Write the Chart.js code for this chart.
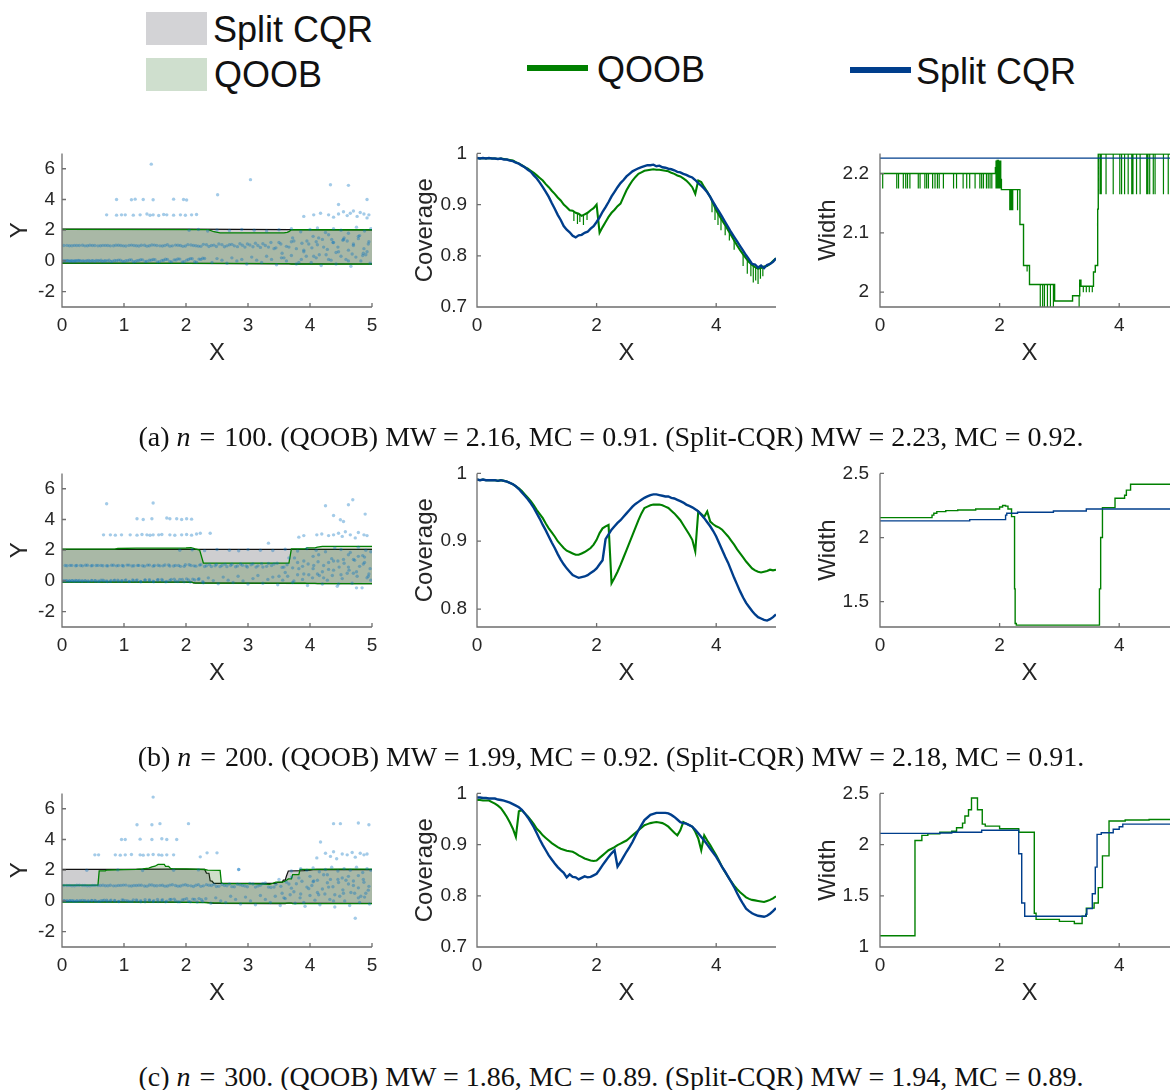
<!DOCTYPE html>
<html>
<head>
<meta charset="utf-8">
<script src="https://cdn.jsdelivr.net/npm/chart.js@4.4.1/dist/chart.umd.min.js"></script>
<style>
  html, body { margin: 0; padding: 0; background: #fff; overflow: hidden; }
  #page { position: relative; width: 1170px; height: 1090px; overflow: hidden; background: #fff;
          font-family: "Liberation Sans", Arial, Helvetica, sans-serif; }
  .lg-text { position: absolute; font-size: 36px; line-height: 36px; color: #111; white-space: nowrap; }
  .swatch { position: absolute; }
  .caption { position: absolute; left: 0; width: 1222px; text-align: center; white-space: nowrap;
             font-family: "Liberation Serif", "Times New Roman", serif; font-size: 28px; line-height: 30px; color: #111; }
  .caption .eq { padding: 0 0.32em; }
</style>
</head>
<body>
<div id="page">
  <div class="swatch" style="left:146px;top:12px;width:61px;height:33px;background:rgb(211,211,214)"></div>
  <div class="lg-text" style="left:213px;top:12px">Split CQR</div>
  <div class="swatch" style="left:146px;top:58px;width:61px;height:33px;background:rgb(207,223,206)"></div>
  <div class="lg-text" style="left:214px;top:57px">QOOB</div>
  <div class="swatch" style="left:527px;top:65px;width:61px;height:6px;background:rgb(0,128,0)"></div>
  <div class="lg-text" style="left:597px;top:52px">QOOB</div>
  <div class="swatch" style="left:850px;top:67px;width:61px;height:6px;background:rgb(0,62,140)"></div>
  <div class="lg-text" style="left:916px;top:54px">Split CQR</div>
</div>
<script>
// ---------- caption values ----------
const captionTags = ['(a)', '(b)', '(c)'];
const captionN = [100, 200, 300];
const qoobMW = [2.16, 1.99, 1.86];
const qoobMC = [0.91, 0.92, 0.89];
const splitMW = [2.23, 2.18, 1.94];
const splitMC = [0.92, 0.91, 0.89];

// ---------- tick values ----------
const xTicksScatter = [0, 1, 2, 3, 4, 5];
const xTicksCurves = [0, 2, 4];
const yTicksScatter = [-2, 0, 2, 4, 6];
const yTicksCovA = [0.7, 0.8, 0.9, 1];
const yTicksCovB = [0.8, 0.9, 1];
const yTicksCovC = [0.7, 0.8, 0.9, 1];
const yTicksWidA = [2, 2.1, 2.2];
const yTicksWidB = [1.5, 2, 2.5];
const yTicksWidC = [1, 1.5, 2, 2.5];

// ---------- observations (left column) ----------
const pointsAX = [
  0.02,0.06,0.1,0.14,0.18,0.22,0.26,0.3,0.35,0.4,0.45,0.5,0.55,0.6,0.65,0.7,0.76,0.82,0.88,0.94,1.0,1.06,1.12,1.18,1.24,1.3,1.37,1.44,1.5,1.57,1.64,1.7,1.77,1.84,1.9,1.97,2.04,2.1,2.17,2.24,2.3,
  2.42,2.5,2.58,2.66,2.74,2.82,2.9,2.98,3.06,3.14,3.22,3.3,3.38,3.46,3.54,3.62,3.7,3.78,3.86,3.94,4.02,4.1,4.18,4.26,4.34,4.42,4.5,4.58,4.66,4.74,4.82,4.9,4.97,
  0.03,0.12,0.2,0.28,0.37,0.45,0.53,0.62,0.7,0.78,0.87,0.95,1.03,1.12,1.2,1.28,1.37,1.45,1.53,1.62,1.7,1.78,1.87,1.95,2.03,2.12,2.2,2.28,2.37,2.45,2.53,2.62,2.7,2.78,2.87,2.95,3.03,3.12,3.2,3.28,3.37,3.45,3.53,3.62,3.7,3.78,3.87,3.95,4.03,4.12,4.2,4.28,4.37,4.45,4.53,4.62,4.7,4.78,4.87,4.95,
  2.05,2.2,2.35,2.5,2.7,2.9,3.1,3.3,3.5,3.7,3.85,4.0,4.12,4.25,4.38,4.5,4.62,4.75,4.88,4.98,
  3.55,3.72,3.9,4.05,4.15,4.3,4.42,4.55,4.68,4.8,4.92,4.6,4.35,4.85,4.1,
  0.72,0.88,0.96,1.02,1.15,1.26,1.37,1.42,1.47,1.56,1.64,1.69,1.8,1.91,1.99,2.09,2.17,
  3.9,4.06,4.17,4.3,4.38,4.46,4.54,4.6,4.65,4.7,4.76,4.81,4.87,4.92,4.95,
  0.88,1.12,1.18,1.31,1.47,1.8,1.96,2.01,
  1.44,3.04,4.33,4.62,2.51,4.46,4.92
];
const pointsAY = [
  0.01,-0.01,0.02,0,-0.02,0.01,0.03,-0.01,0,0.02,-0.02,0.01,0.03,0,-0.03,0.02,0.04,-0.02,0.01,0.05,-0.03,0.02,0.06,-0.04,0.03,0.07,-0.02,0.05,0.08,-0.05,0.04,0.1,-0.06,0.06,0.12,-0.05,0.09,0.14,-0.08,0.1,0.16,
  -0.1,0.15,0.05,-0.15,0.2,0,0.1,-0.2,0.25,0.05,-0.1,0.3,0.1,-0.25,0.2,0,0.35,-0.2,0.1,0.3,-0.1,0.2,-0.3,0.4,0.05,-0.2,0.3,0.1,-0.35,0.25,0,0.4,-0.15,
  1.0,0.99,1.01,1.0,0.98,1.02,1.0,0.99,1.01,0.98,1.02,1.0,0.97,1.03,0.99,1.02,0.96,1.04,1.0,0.97,1.05,0.98,1.02,0.95,1.06,1.0,0.96,1.08,0.94,1.03,1.1,0.92,1.05,0.98,1.12,0.9,1.04,1.15,0.88,1.0,1.2,0.85,1.1,0.95,1.25,0.8,1.15,1.3,0.85,1.05,1.4,0.75,1.2,0.9,1.35,0.7,1.1,1.45,0.8,1.25,
  2.0,2.05,1.95,2.02,1.98,2.05,2.0,1.95,2.03,2.1,1.9,2.05,2.15,1.85,2.1,2.0,1.8,2.2,1.95,2.1,
  0.5,1.5,0.6,1.6,0.4,1.7,0.55,1.5,0.45,1.65,0.6,1.3,1.4,0.35,1.25,
  3.0,2.98,3.0,3.0,2.98,3.0,3.05,2.97,3.0,2.96,3.02,3.0,2.98,3.0,2.97,3.0,3.02,
  2.9,3.0,3.1,3.0,2.85,3.05,3.2,2.95,3.1,3.25,2.9,3.15,3.05,2.8,3.0,
  4.0,3.98,4.02,4.0,3.98,4.02,4.0,3.97,
  6.3,5.29,4.96,4.92,4.31,3.67,4.0
];
const pointsBX = [
  0.02,0.07,0.12,0.17,0.22,0.27,0.32,0.37,0.42,0.48,0.54,0.6,0.66,0.72,0.78,0.84,0.9,0.96,1.02,1.08,1.14,1.2,1.27,1.34,1.41,1.48,1.55,1.62,1.69,1.76,1.83,1.9,1.97,2.04,2.11,
  2.2,2.28,2.36,2.44,2.52,2.6,2.68,2.76,2.84,2.92,3.0,3.08,3.16,3.24,3.32,3.4,3.48,3.56,3.64,3.72,3.8,3.88,3.96,4.04,4.12,4.2,4.28,4.36,4.44,4.52,4.6,4.68,4.76,4.84,4.92,4.98,
  0.05,0.13,0.22,0.3,0.38,0.47,0.55,0.63,0.72,0.8,0.88,0.97,1.05,1.13,1.22,1.3,1.38,1.47,1.55,1.63,1.72,1.8,1.88,1.97,2.05,2.13,2.22,2.3,2.38,2.47,2.55,2.63,2.72,2.8,2.88,2.97,3.05,3.13,3.22,3.3,3.38,3.47,3.55,3.63,3.72,3.8,3.88,3.97,4.05,4.13,4.22,4.3,4.38,4.47,4.55,4.63,4.72,4.8,4.88,4.97,
  1.9,2.1,2.3,2.5,2.7,2.85,3.0,3.2,3.4,3.6,3.8,3.95,4.1,4.25,4.4,4.5,4.65,4.78,4.9,4.98,
  3.6,3.75,3.9,4.05,4.2,4.35,4.5,4.62,4.75,4.88,4.95,4.45,4.7,4.15,4.85,
  0.67,0.78,0.86,0.96,1.1,1.21,1.29,1.37,1.42,1.47,1.56,1.61,1.74,1.82,1.93,2.01,2.09,2.17,2.23,
  3.82,3.9,4.11,4.19,4.3,4.38,4.46,4.52,4.57,4.65,4.73,4.78,4.87,4.92,
  1.21,1.31,1.45,1.69,1.74,1.85,1.93,2.01,2.09,
  0.72,1.47,4.69,4.25,4.62,4.38,4.49,4.54,4.89,3.33,2.39,4.75
];
const pointsBY = [
  0,0.02,-0.01,0.01,0.03,-0.02,0,0.02,-0.01,0.03,0.01,-0.02,0.04,0,-0.03,0.02,0.05,-0.01,0.03,-0.04,0.06,0.01,-0.03,0.07,0,-0.05,0.08,0.02,-0.04,0.09,-0.02,0.1,-0.06,0.06,0.12,
  0.1,-0.12,0.2,0.02,-0.18,0.25,0.05,-0.1,0.3,0,-0.2,0.15,0.35,-0.15,0.1,0.25,-0.25,0.05,0.3,-0.1,0.4,0.1,-0.3,0.2,0.45,-0.2,0.05,0.35,-0.35,0.15,0.5,-0.15,0.3,-0.45,0.2,0.05,
  1.0,1.01,0.99,1.0,1.02,0.98,1.0,1.01,0.99,1.02,0.98,1.0,1.03,0.97,1.01,0.99,1.03,0.96,1.02,0.98,1.04,0.97,1.01,0.95,1.05,0.98,1.03,0.94,1.06,0.99,0.93,1.08,1.0,0.92,1.1,0.97,1.05,0.9,1.12,0.95,1.0,1.15,0.88,1.05,0.85,1.2,0.95,1.1,0.8,1.25,1.0,0.75,1.3,0.9,1.15,0.7,1.35,0.95,1.2,0.8,
  2.0,2.03,1.97,2.05,2.0,1.96,2.04,2.0,1.98,2.06,1.95,2.1,2.0,1.9,2.15,2.05,1.85,2.2,2.0,1.9,
  0.55,1.5,0.45,1.6,0.6,1.45,0.4,1.7,0.6,1.55,0.45,1.3,1.4,0.35,1.65,
  3.0,3.0,2.98,3.0,3.0,2.98,3.02,3.0,2.97,3.0,3.0,3.02,3.0,2.97,3.0,3.02,2.98,3.05,3.1,
  2.85,2.95,3.0,3.05,2.95,3.0,3.1,2.9,3.2,3.0,2.8,3.15,3.0,2.95,
  4.05,4.0,4.05,4.1,4.05,4.05,4.0,4.05,4.02,
  5.02,5.07,5.28,4.89,4.96,4.26,3.98,3.87,4.35,2.46,3.1,-0.45
];
const pointsCX = [
  0.03,0.08,0.13,0.18,0.24,0.3,0.36,0.42,0.48,0.54,0.6,0.66,0.72,0.78,0.85,0.92,0.99,1.06,1.13,1.2,1.27,1.34,1.41,1.48,1.55,1.62,1.69,1.76,1.83,1.9,1.97,2.04,2.11,2.18,2.25,2.32,
  2.4,2.48,2.56,2.64,2.72,2.8,2.88,2.96,3.04,3.12,3.2,3.28,3.36,3.44,3.52,3.6,3.68,3.76,3.84,3.92,4.0,4.08,4.16,4.24,4.32,4.4,4.48,4.56,4.64,4.72,4.8,4.88,4.96,
  0.03,0.12,0.2,0.28,0.37,0.45,0.53,0.62,0.7,0.78,0.87,0.95,1.03,1.12,1.2,1.28,1.37,1.45,1.53,1.62,1.7,1.78,1.87,1.95,2.03,2.12,2.2,2.28,2.37,2.45,2.53,2.62,2.7,2.78,2.87,2.95,3.03,3.12,3.2,3.28,3.37,3.45,3.53,3.62,3.7,3.78,3.87,3.95,4.03,4.12,4.2,4.28,4.37,4.45,4.53,4.62,4.7,4.78,4.87,4.95,
  0.4,0.9,1.3,1.8,2.2,2.85,3.7,3.85,3.95,4.05,4.15,4.25,4.35,4.45,4.55,4.65,4.75,4.85,4.92,4.98,
  3.55,3.7,3.85,4.0,4.12,4.28,4.4,4.52,4.66,4.78,4.9,4.58,4.33,4.82,4.05,
  0.53,0.59,0.86,0.94,1.02,1.12,1.26,1.31,1.39,1.47,1.56,1.61,1.69,1.8,2.23,2.34,2.5,
  4.11,4.25,4.33,4.38,4.43,4.52,4.6,4.68,4.73,4.81,4.87,4.92,
  0.96,1.02,1.26,1.45,1.61,1.69,1.85,
  1.47,1.21,1.45,1.58,2.04,4.38,4.49,4.78,4.95,4.17,4.73,2.85
];
const pointsCY = [
  0.01,-0.01,0.02,0,-0.02,0.02,0.01,-0.01,0.03,0,-0.03,0.02,0.04,-0.01,0.03,-0.04,0.05,0,-0.03,0.06,0.02,-0.05,0.07,0.01,-0.04,0.08,-0.02,0.09,0,-0.06,0.1,-0.03,0.12,-0.07,0.08,0.14,
  -0.15,0.2,0,-0.1,0.3,0.1,-0.2,0.25,0,-0.25,0.35,0.1,-0.1,0.3,-0.3,0.15,0.4,-0.15,0.2,-0.35,0.35,0.05,-0.25,0.45,0.1,-0.4,0.3,0,-0.3,0.5,-0.1,0.25,-0.2,
  1.0,1.01,0.99,1.02,1.0,0.98,1.01,1.0,0.99,1.02,0.98,1.01,1.03,0.97,1.0,1.02,0.96,1.04,0.99,1.02,0.97,1.05,0.96,1.03,1.0,0.94,1.06,0.98,1.02,1.08,0.95,1.0,1.1,0.92,1.05,0.97,1.13,0.9,1.02,1.17,0.87,1.08,0.95,1.22,0.83,1.12,1.28,0.9,1.0,1.35,0.78,1.18,0.92,1.4,0.72,1.1,1.3,0.85,1.22,0.95,
  2.0,2.02,1.98,2.0,2.02,2.05,1.95,2.1,2.0,2.15,1.9,2.05,2.2,1.95,2.1,2.0,2.2,1.85,2.1,2.0,
  0.5,1.55,0.45,1.6,0.55,1.7,0.4,1.5,0.55,1.65,0.5,1.35,1.4,0.3,1.25,
  3.0,3.0,3.0,2.98,3.0,3.02,3.0,2.98,3.0,3.02,3.0,2.98,3.0,3.0,2.87,3.13,3.13,
  2.8,3.1,2.9,3.2,2.75,3.05,3.0,3.15,2.85,3.1,3.0,3.05,
  4.0,4.0,4.02,4.0,4.05,4.0,4.0,
  6.76,4.96,4.96,5.03,5.03,5.03,5.03,5.07,4.96,3.84,-1.13,2.05
];
// more observations along the two dense rows and in the noisy right-hand part
const denseZeroX = [0.04,0.08,0.12,0.16,0.2,0.24,0.28,0.33,0.38,0.43,0.48,0.53,0.58,0.63,0.68,0.73,0.79,0.85,0.91,0.97,1.03,1.09,1.15,1.21,1.27,1.34,1.41,1.47,1.54,1.61,1.67,1.74,1.81,1.87,1.94,2.01,2.07,2.14,2.21,2.27];
const denseOneX = [0.08,0.16,0.24,0.33,0.41,0.49,0.58,0.66,0.74,0.83,0.91,0.99,1.08,1.16,1.24,1.33,1.41,1.49,1.58,1.66,1.74,1.83,1.91,1.99,2.08,2.16,2.24,2.33,2.41,2.49,2.58,2.66,2.74,2.83,2.91,2.99,3.08,3.16,3.24,3.33];
const spreadRightX = [3.42,3.5,3.58,3.66,3.74,3.82,3.9,3.98,4.06,4.14,4.22,4.3,4.38,4.46,4.54,4.62,4.7,4.78,4.86,4.94];
const denseAY = [
  0,0.02,-0.02,0.01,0,-0.01,0.02,0,-0.02,0.03,0.01,-0.03,0.02,0.04,-0.01,0,-0.04,0.03,0.05,-0.02,0.01,0.06,-0.05,0.02,0.08,-0.03,0.04,0.09,-0.06,0.03,0.11,-0.04,0.07,0.13,-0.07,0.05,0.15,-0.05,0.12,0.18,
  1.01,0.99,1.0,1.02,0.99,1.0,0.98,1.01,1.0,0.99,1.02,0.98,1.01,1.0,0.97,1.02,0.99,1.03,0.98,1.0,0.96,1.03,1.0,0.97,1.04,0.99,0.95,1.05,1.0,0.94,1.06,0.98,1.08,0.93,1.02,1.1,0.92,1.0,1.12,0.9,
  0.8,1.2,0.2,0.9,1.3,-0.1,0.7,1.1,0.3,1.5,0.9,0.1,1.2,0.6,1.4,0,1.0,1.6,0.5,1.1
];
const denseBY = [
  0.01,-0.01,0,0.02,-0.02,0.01,0.03,-0.01,0,-0.03,0.02,0.01,-0.02,0.04,0,-0.04,0.03,0.05,-0.02,0.01,0.06,-0.03,0.02,0.07,-0.05,0.04,0.08,-0.02,0.06,0.1,-0.06,0.03,0.11,-0.04,0.09,0.13,-0.07,0.06,0.14,-0.05,
  0.99,1.01,1.0,0.98,1.02,1.0,1.01,0.99,0.98,1.02,1.0,0.97,1.03,0.99,1.01,0.96,1.03,1.0,0.98,1.04,0.97,1.01,0.95,1.05,1.0,0.96,1.06,0.99,0.94,1.07,1.0,0.93,1.09,0.97,1.02,0.91,1.11,0.98,0.9,1.13,
  1.1,0.3,0.9,1.5,0,0.8,1.3,0.4,1.0,1.7,0.2,1.2,0.7,-0.2,1.4,0.9,0.5,1.6,1.1,0.3
];
const denseCY = [
  0.02,0,-0.01,0.01,-0.02,0.02,0,0.03,-0.01,-0.02,0.02,0.03,-0.03,0.01,0.04,-0.02,0.05,0,-0.04,0.06,0.02,-0.03,0.07,0,-0.05,0.08,0.02,-0.04,0.1,0.01,-0.06,0.09,0.12,-0.05,0.06,0.14,-0.06,0.1,0.15,-0.04,
  1.0,0.99,1.02,1.0,0.98,1.01,1.0,1.02,0.99,0.98,1.01,1.03,0.98,1.0,1.02,0.97,1.04,0.99,1.01,0.96,1.03,1.0,0.97,1.05,0.98,1.02,0.95,1.06,1.0,0.94,1.07,0.99,0.93,1.09,1.0,0.92,1.1,0.97,1.13,0.9,
  0.9,1.4,0.2,1.1,0.6,1.5,-0.1,0.8,1.3,0.4,1.7,0.9,0,1.2,0.5,1.6,1.0,0.2,1.4,0.7
];

// ---------- prediction bands (left column) ----------
const splitBandAX = [0, 2.0, 3.7, 5];
const splitBandALow = [-0.15, -0.16, -0.19, -0.2];
const splitBandAHigh = [2.075, 2.065, 2.035, 2.025];
const qoobBandAX = [0, 2.36, 2.45, 2.55, 3.58, 3.63, 3.66, 3.7, 5];
const qoobBandALow = [-0.15, -0.16, -0.16, -0.16, -0.17, -0.17, -0.18, -0.2, -0.2];
const qoobBandAHigh = [2.05, 2.04, 1.9, 1.82, 1.82, 1.86, 1.9, 2.03, 2.03];

const splitBandBX = [0, 2.1, 2.12, 2.9, 3.45, 5];
const splitBandBLow = [-0.07, -0.08, -0.13, -0.14, -0.16, -0.17];
const splitBandBHigh = [2.06, 2.06, 2.05, 2.06, 2.06, 2.05];
const qoobBandBX = [0, 0.85, 0.9, 1.2, 2.0, 2.08, 2.15, 2.22, 2.26, 2.28, 3.66, 3.7, 3.92, 3.95, 4.08, 4.12, 4.2, 5];
const qoobBandBLow = [-0.08, -0.08, -0.08, -0.08, -0.08, -0.085, -0.14, -0.15, -0.15, -0.15, -0.15, -0.153, -0.153, -0.156, -0.156, -0.17, -0.17, -0.17];
const qoobBandBHigh = [2.075, 2.075, 2.11, 2.135, 2.143, 2.16, 2.08, 2.01, 1.45, 1.165, 1.165, 2.08, 2.08, 2.15, 2.15, 2.2, 2.245, 2.245];

const splitBandCX = [0, 1.0, 1.7, 2.3, 2.33, 2.37, 2.39, 2.42, 2.45, 3.45, 3.48, 3.55, 3.57, 3.6, 3.62, 3.65, 3.9, 4.0, 4.05, 4.1, 5];
const splitBandCLow = [-0.05, -0.06, -0.08, -0.1, -0.1, -0.11, -0.12, -0.14, -0.16, -0.17, -0.17, -0.17, -0.17, -0.17, -0.16, -0.15, -0.15, -0.15, -0.15, -0.15, -0.16];
const splitBandCHigh = [2.06, 2.055, 2.065, 2.05, 1.81, 1.8, 1.31, 1.29, 1.14, 1.14, 1.21, 1.21, 1.35, 1.35, 1.62, 1.95, 1.97, 2.01, 2.04, 2.05, 2.04];
const qoobBandCX = [0, 0.58, 0.6, 0.7, 0.72, 1.0, 1.2, 1.3, 1.4, 1.45, 1.5, 1.55, 1.65, 1.67, 1.72, 1.75, 1.78, 2.0, 2.3, 2.35, 2.55, 2.57, 2.6, 3.0, 3.25, 3.35, 3.4, 3.45, 3.55, 3.6, 3.65, 3.7, 3.72, 3.82, 3.84, 4.0, 4.1, 4.5, 5];
const qoobBandCLow = [-0.08, -0.08, -0.08, -0.08, -0.08, -0.08, -0.08, -0.08, -0.08, -0.08, -0.08, -0.08, -0.08, -0.08, -0.08, -0.08, -0.08, -0.09, -0.11, -0.12, -0.13, -0.15, -0.15, -0.15, -0.15, -0.15, -0.15, -0.15, -0.15, -0.15, -0.15, -0.15, -0.18, -0.18, -0.18, -0.18, -0.18, -0.18, -0.18];
const qoobBandCHigh = [1.03, 1.03, 1.96, 1.96, 2.01, 2.04, 2.05, 2.085, 2.13, 2.22, 2.26, 2.375, 2.375, 2.255, 2.255, 2.12, 2.1, 2.08, 2.045, 2.0, 1.99, 1.18, 1.12, 1.12, 1.1, 1.08, 1.15, 1.23, 1.23, 1.28, 1.43, 1.43, 1.71, 1.71, 2.05, 2.05, 2.06, 2.065, 2.07];

// ---------- conditional coverage (middle column) ----------
const coverageX = [
  0,0.05,0.1,0.15,0.2,0.25,0.3,0.35,0.4,0.45,
  0.5,0.55,0.6,0.65,0.7,0.75,0.8,0.85,0.9,0.95,
  1,1.05,1.1,1.15,1.2,1.25,1.3,1.35,1.4,1.45,
  1.5,1.55,1.6,1.65,1.7,1.75,1.8,1.85,1.9,1.95,
  2,2.05,2.1,2.15,2.2,2.25,2.3,2.35,2.4,2.45,
  2.5,2.55,2.6,2.65,2.7,2.75,2.8,2.85,2.9,2.95,
  3,3.05,3.1,3.15,3.2,3.25,3.3,3.35,3.4,3.45,
  3.5,3.55,3.6,3.65,3.7,3.75,3.8,3.85,3.9,3.95,
  4,4.05,4.1,4.15,4.2,4.25,4.3,4.35,4.4,4.45,
  4.5,4.55,4.6,4.65,4.7,4.75,4.8,4.85,4.9,4.95,
  5
];
const coverageASplit = [
  0.991,0.99,0.991,0.99,0.991,0.99,0.99,0.989,0.99,0.988,
  0.988,0.986,0.985,0.982,0.98,0.976,0.973,0.968,0.964,0.957,
  0.951,0.943,0.934,0.925,0.915,0.903,0.892,0.88,0.87,0.858,
  0.851,0.846,0.839,0.836,0.84,0.841,0.845,0.847,0.853,0.858,
  0.866,0.875,0.886,0.895,0.905,0.916,0.925,0.934,0.942,0.948,
  0.955,0.96,0.965,0.968,0.971,0.973,0.975,0.977,0.977,0.978,
  0.975,0.976,0.973,0.972,0.97,0.969,0.967,0.964,0.963,0.96,
  0.958,0.955,0.953,0.948,0.942,0.937,0.931,0.924,0.915,0.905,
  0.895,0.886,0.876,0.866,0.856,0.846,0.837,0.828,0.819,0.81,
  0.801,0.793,0.784,0.783,0.777,0.781,0.776,0.782,0.784,0.788,
  0.795
];
const coverageAQoob = [
  0.991,0.99,0.991,0.99,0.991,0.99,0.99,0.989,0.99,0.989,
  0.988,0.987,0.986,0.983,0.98,0.977,0.973,0.97,0.966,0.962,
  0.957,0.952,0.947,0.94,0.934,0.927,0.921,0.914,0.908,0.9,
  0.895,0.889,0.888,0.884,0.882,0.878,0.881,0.884,0.889,0.893,
  0.9,0.845,0.856,0.866,0.876,0.884,0.89,0.897,0.902,0.915,
  0.928,0.938,0.947,0.954,0.96,0.963,0.966,0.967,0.968,0.969,
  0.968,0.968,0.967,0.966,0.965,0.962,0.96,0.957,0.955,0.951,
  0.947,0.941,0.934,0.921,0.947,0.944,0.934,0.925,0.915,0.902,
  0.889,0.879,0.869,0.86,0.85,0.84,0.83,0.82,0.811,0.803,
  0.795,0.788,0.782,0.778,0.775,0.776,0.779,0.78,0.784,0.79,
  0.795
];
const coverageASpikeX = [1.62,1.68,1.72,1.78,1.84,3.93,3.98,4.03,4.08,4.15,4.22,4.3,4.45,4.52,4.58,4.62,4.66,4.7,4.74,4.78];
const coverageASpikeTop = [0.886,0.883,0.881,0.879,0.883,0.907,0.894,0.883,0.873,0.86,0.846,0.83,0.803,0.792,0.785,0.781,0.778,0.775,0.776,0.778];
const coverageASpikeLow = [0.868,0.862,0.866,0.86,0.87,0.885,0.87,0.86,0.85,0.84,0.83,0.812,0.78,0.765,0.76,0.748,0.752,0.745,0.755,0.76];

const coverageBSplit = [
  0.991,0.99,0.991,0.99,0.99,0.99,0.99,0.989,0.99,0.989,
  0.988,0.986,0.984,0.981,0.977,0.972,0.967,0.962,0.956,0.949,
  0.941,0.933,0.924,0.916,0.907,0.898,0.89,0.881,0.873,0.866,
  0.86,0.855,0.85,0.848,0.846,0.847,0.848,0.85,0.853,0.856,
  0.86,0.866,0.872,0.903,0.91,0.917,0.922,0.927,0.931,0.936,
  0.941,0.946,0.951,0.955,0.958,0.961,0.964,0.966,0.968,0.969,
  0.969,0.968,0.967,0.966,0.966,0.964,0.963,0.961,0.959,0.957,
  0.954,0.952,0.95,0.947,0.944,0.939,0.934,0.928,0.922,0.915,
  0.907,0.897,0.887,0.877,0.868,0.857,0.846,0.836,0.826,0.817,
  0.809,0.803,0.797,0.792,0.788,0.786,0.784,0.783,0.785,0.788,
  0.792
];
const coverageBQoob = [
  0.991,0.99,0.991,0.99,0.99,0.99,0.99,0.989,0.99,0.989,
  0.988,0.986,0.984,0.981,0.978,0.974,0.969,0.964,0.959,0.953,
  0.946,0.94,0.934,0.926,0.919,0.913,0.907,0.9,0.895,0.89,
  0.886,0.884,0.882,0.88,0.88,0.882,0.884,0.887,0.89,0.895,
  0.902,0.912,0.919,0.922,0.924,0.838,0.846,0.855,0.865,0.876,
  0.887,0.898,0.909,0.92,0.931,0.941,0.949,0.951,0.953,0.954,
  0.954,0.954,0.953,0.951,0.949,0.945,0.941,0.936,0.931,0.924,
  0.917,0.91,0.902,0.885,0.944,0.94,0.936,0.944,0.929,0.925,
  0.922,0.92,0.917,0.912,0.907,0.901,0.895,0.888,0.882,0.876,
  0.87,0.865,0.86,0.857,0.855,0.854,0.855,0.856,0.858,0.857,
  0.858
];
const coverageCSplit = [
  0.992,0.992,0.991,0.991,0.99,0.99,0.99,0.988,0.987,0.986,
  0.984,0.982,0.979,0.976,0.973,0.968,0.961,0.953,0.944,0.934,
  0.922,0.91,0.899,0.889,0.879,0.871,0.863,0.856,0.85,0.845,
  0.836,0.842,0.837,0.836,0.832,0.835,0.838,0.836,0.837,0.84,
  0.843,0.851,0.86,0.868,0.876,0.883,0.889,0.857,0.866,0.876,
  0.886,0.895,0.905,0.917,0.928,0.938,0.948,0.953,0.958,0.96,
  0.962,0.962,0.962,0.962,0.961,0.958,0.954,0.949,0.944,0.942,
  0.941,0.938,0.935,0.929,0.922,0.915,0.908,0.9,0.892,0.884,
  0.876,0.866,0.856,0.847,0.837,0.827,0.817,0.805,0.794,0.784,
  0.775,0.77,0.766,0.763,0.761,0.76,0.759,0.761,0.765,0.77,
  0.776
];
const coverageCQoob = [
  0.987,0.987,0.986,0.986,0.986,0.983,0.98,0.976,0.971,0.963,
  0.954,0.943,0.931,0.915,0.965,0.967,0.961,0.955,0.948,0.94,
  0.931,0.925,0.918,0.913,0.908,0.903,0.899,0.895,0.892,0.89,
  0.888,0.887,0.886,0.883,0.879,0.876,0.873,0.871,0.869,0.868,
  0.869,0.874,0.879,0.884,0.889,0.892,0.895,0.899,0.902,0.905,
  0.908,0.913,0.918,0.923,0.928,0.933,0.938,0.94,0.942,0.943,
  0.944,0.943,0.942,0.939,0.935,0.929,0.923,0.918,0.928,0.944,
  0.941,0.938,0.935,0.925,0.912,0.889,0.918,0.908,0.899,0.889,
  0.879,0.868,0.856,0.846,0.837,0.828,0.82,0.813,0.807,0.802,
  0.797,0.794,0.792,0.791,0.79,0.789,0.788,0.79,0.792,0.795,
  0.799
];

// ---------- interval width (right column), level changes ----------
const widthASplitX = [0, 5];
const widthASplit = [2.226, 2.226];
const widthAQoobX = [0, 1.93, 1.96, 1.98, 2.0, 2.03, 2.34, 2.4, 2.5, 2.92, 3.22, 3.34, 3.36, 3.57, 3.6, 3.64, 3.65, 5];
const widthAQoob = [2.2, 2.21, 2.222, 2.205, 2.19, 2.173, 2.114, 2.045, 2.013, 1.985, 1.994, 2.02, 2.01, 2.034, 2.045, 2.14, 2.233, 2.233];
const widthASpikeTop = [2.2, 2.222, 2.173, 2.045, 2.013, 1.994, 2.01, 2.233];
const widthASpikeLow = [2.175, 2.175, 2.138, 2.035, 1.975, 1.975, 2.0, 2.165];
const widthASpikeX = [
  [0.045,0.28,0.31,0.39,0.43,0.46,0.5,0.64,0.67,0.75,0.78,0.81,0.88,0.92,0.96,0.99,1.06,1.23,1.28,1.39,1.45,1.5,1.59,1.67,1.7,1.73,1.78,1.81,1.84,1.87],
  [1.94,1.95,1.97,1.99,2.0,2.02],
  [2.17,2.19,2.2,2.22,2.3],
  [2.46],
  [2.68,2.72,2.75,2.8,2.85,2.9],
  [3.33],
  [3.4,3.45,3.5,3.55],
  [3.68,3.7,3.78,3.9,4.01,4.04,4.09,4.15,4.21,4.23,4.29,4.35,4.46,4.48,4.51,4.57,4.6,4.74,4.82]
];
const widthBSplitX = [0, 1.5, 2.1, 2.12, 2.3, 2.9, 3.45, 5];
const widthBSplit = [2.13, 2.14, 2.175, 2.19, 2.197, 2.207, 2.223, 2.223];
const widthBQoobX = [0, 0.87, 0.9, 0.95, 1.1, 1.3, 1.6, 2.0, 2.05, 2.1, 2.14, 2.2, 2.25, 2.26, 2.28, 3.67, 3.69, 3.72, 3.93, 4.09, 4.12, 4.19, 5];
const widthBQoob = [2.155, 2.175, 2.19, 2.202, 2.21, 2.215, 2.222, 2.238, 2.25, 2.245, 2.222, 2.163, 1.6, 1.33, 1.318, 1.6, 2.0, 2.233, 2.306, 2.33, 2.37, 2.415, 2.415];
const widthCSplitX = [0, 1.0, 1.2, 1.7, 2.32, 2.37, 2.42, 3.44, 3.46, 3.55, 3.6, 3.63, 3.7, 3.9, 4.0, 4.06, 5];
const widthCSplit = [2.11, 2.113, 2.12, 2.14, 1.91, 1.43, 1.3, 1.32, 1.375, 1.52, 1.78, 2.1, 2.115, 2.15, 2.175, 2.2, 2.2];
const widthCQoobX = [0, 0.585, 0.7, 0.8, 1.0, 1.2, 1.28, 1.38, 1.42, 1.48, 1.53, 1.63, 1.71, 1.76, 2.0, 2.32, 2.58, 2.61, 3.0, 3.25, 3.38, 3.45, 3.58, 3.65, 3.72, 3.83, 4.1, 4.5, 5];
const widthCQoob = [1.11, 2.04, 2.09, 2.105, 2.12, 2.13, 2.165, 2.21, 2.28, 2.34, 2.455, 2.34, 2.2, 2.18, 2.155, 2.12, 1.33, 1.27, 1.25, 1.23, 1.3, 1.38, 1.43, 1.58, 1.89, 2.23, 2.24, 2.245, 2.25];

// ---------- drawing ----------
const FONT = '"Liberation Sans", Arial, Helvetica, sans-serif';
const INK = '#262626';
const GREEN = 'rgb(0,128,0)';
const BLUE = 'rgb(0,62,140)';
const GRAY_FILL = 'rgba(150,150,155,0.47)';
const GREEN_FILL = 'rgba(35,105,15,0.22)';
const POINT = 'rgba(0,110,190,0.36)';

// plot-area placement on the page
const COLS = [
  {x0: 62, w: 310, L: 62, tickPad: 7, titleOff: 20},
  {x0: 477, w: 299, L: 80, tickPad: 10, titleOff: 28},
  {x0: 880, w: 299, L: 80, tickPad: 11, titleOff: 28}
];
const ROW_TOPS = [153, 473, 793];
const PLOT_H = 154, PAD_T = 14, PAD_R = 14, PAD_B = 64;
const TICK_FONT = 19, TITLE_FONT = 24;

Chart.defaults.font.family = FONT;

const pairs = (xs, ys) => xs.map((x, i) => ({x, y: ys[i]}));
function steps(xs, ys) {
  const out = [];
  xs.forEach((x, i) => {
    out.push({x, y: ys[i]});
    if (i + 1 < xs.length) out.push({x: xs[i + 1], y: ys[i]});
  });
  return out;
}
function spikes(xs, tops, lows) {
  const out = [];
  xs.forEach((x, i) => { out.push({x, y: tops[i]}, {x, y: lows[i]}, {x, y: null}); });
  return out;
}
function spikeGroups(groups, tops, lows) {
  const out = [];
  groups.forEach((g, k) => g.forEach(x => { out.push({x, y: tops[k]}, {x, y: lows[k]}, {x, y: null}); }));
  return out;
}

// inward tick marks and the two axis lines
const boxAxes = {
  id: 'boxAxes',
  afterDatasetsDraw(chart) {
    const {ctx, chartArea: a, scales: {x, y}} = chart;
    ctx.save();
    ctx.strokeStyle = '#6e6e6e';
    ctx.lineWidth = 1.3;
    ctx.beginPath();
    ctx.moveTo(a.left, a.top);
    ctx.lineTo(a.left, a.bottom);
    ctx.lineTo(a.right, a.bottom);
    x.ticks.forEach(t => { const p = x.getPixelForValue(t.value); ctx.moveTo(p, a.bottom); ctx.lineTo(p, a.bottom - 4); });
    y.ticks.forEach(t => { const p = y.getPixelForValue(t.value); ctx.moveTo(a.left, p); ctx.lineTo(a.left + 4, p); });
    ctx.stroke();
    ctx.restore();
  }
};

const page = document.getElementById('page');

function panel(col, row, cfg) {
  const c = COLS[col];
  const lh = TITLE_FONT * 1.2;
  const build = (dx, dy, dw, dh) => {
    const cw = Math.round(c.L + c.w + PAD_R + dw);
    const ch = Math.round(PAD_T + PLOT_H + PAD_B + dh);
    const canvas = document.createElement('canvas');
    canvas.width = cw; canvas.height = ch;
    canvas.style.cssText = `position:absolute;left:${Math.round(c.x0 - c.L - dx)}px;top:${Math.round(ROW_TOPS[row] - PAD_T - dy)}px;width:${cw}px;height:${ch}px`;
    page.appendChild(canvas);
    const chart = new Chart(canvas.getContext('2d'), {
      type: 'line',
      data: {datasets: cfg.datasets()},
      options: {
        responsive: false, animation: false, devicePixelRatio: 1,
        layout: {padding: {top: PAD_T, right: PAD_R, left: 0, bottom: 0}},
        plugins: {legend: {display: false}, tooltip: {enabled: false}},
        elements: {line: {tension: 0}},
        scales: {
          x: {
            type: 'linear', min: 0, max: 5,
            afterBuildTicks: s => { s.ticks = cfg.xTicks.map(v => ({value: v})); },
            afterFit: s => { s.height = PAD_B; },
            grid: {display: false, drawTicks: false}, border: {display: false},
            ticks: {padding: 7, color: INK, font: {size: TICK_FONT}, maxRotation: 0, autoSkip: false, callback: v => String(v)},
            title: {display: true, text: 'X', color: INK, font: {size: TITLE_FONT}, padding: {top: 0, bottom: PAD_B - 46.5 - lh / 2}}
          },
          y: {
            type: 'linear', min: cfg.yMin, max: cfg.yMax,
            afterBuildTicks: s => { s.ticks = cfg.yTicks.map(v => ({value: v})); },
            afterFit: s => { s.width = c.L; },
            grid: {display: false, drawTicks: false}, border: {display: false},
            ticks: {padding: c.tickPad, color: INK, font: {size: TICK_FONT}, autoSkip: false, callback: v => String(v)},
            title: {display: true, text: cfg.yTitle, color: INK, font: {size: TITLE_FONT}, padding: {top: c.titleOff - lh / 2, bottom: 0}}
          }
        }
      },
      plugins: [boxAxes]
    });
    return {canvas, chart};
  };
  // lay out once, then re-place the canvas so the plot area lands exactly where wanted
  const first = build(0, 0, 0, 0);
  const a = first.chart.chartArea;
  const dx = a.left - c.L, dy = a.top - PAD_T;
  const dw = c.w - (a.right - a.left), dh = PLOT_H - (a.bottom - a.top);
  if (Math.abs(dx) > 0.5 || Math.abs(dy) > 0.5 || Math.abs(dw) > 0.5 || Math.abs(dh) > 0.5) {
    first.chart.destroy();
    first.canvas.remove();
    build(dx, dy, dw, dh);
  }
}

function bandSets(sx, slo, shi, qx, qlo, qhi, px, py) {
  return [
    {data: pairs(sx, slo), borderColor: '#111', borderWidth: 1.2, pointRadius: 0, fill: false, order: 5},
    {data: pairs(sx, shi), borderColor: '#111', borderWidth: 1.2, pointRadius: 0, fill: '-1', backgroundColor: GRAY_FILL, order: 4},
    {data: pairs(qx, qlo), borderColor: GREEN, borderWidth: 1.3, pointRadius: 0, fill: false, order: 3},
    {data: pairs(qx, qhi), borderColor: GREEN, borderWidth: 1.3, pointRadius: 0, fill: '-1', backgroundColor: GREEN_FILL, order: 2},
    {type: 'scatter', data: pairs(px, py), pointRadius: 1.7, pointBackgroundColor: POINT, pointBorderWidth: 0, order: 1}
  ];
}
function curveSets(xs, split, qoob, extra) {
  const sets = [
    {data: pairs(xs, split), borderColor: BLUE, borderWidth: 2.4, pointRadius: 0, order: 1},
    {data: pairs(xs, qoob), borderColor: GREEN, borderWidth: 2.1, pointRadius: 0, order: 2}
  ];
  if (extra) sets.push({data: extra, borderColor: GREEN, borderWidth: 1.2, pointRadius: 0, spanGaps: false, order: 3});
  return sets;
}
function widthSets(sx, sy, qx, qy, extra) {
  const sets = [
    {data: steps(sx, sy), borderColor: BLUE, borderWidth: 1.4, pointRadius: 0, order: 1},
    {data: steps(qx, qy), borderColor: GREEN, borderWidth: 1.4, pointRadius: 0, order: 2}
  ];
  if (extra) sets.push({data: extra, borderColor: GREEN, borderWidth: 1.2, pointRadius: 0, spanGaps: false, order: 3});
  return sets;
}
const denseX = denseZeroX.concat(denseOneX, spreadRightX);

// row (a)
panel(0, 0, {xTicks: xTicksScatter, yMin: -3, yMax: 7, yTicks: yTicksScatter, yTitle: 'Y',
  datasets: () => bandSets(splitBandAX, splitBandALow, splitBandAHigh, qoobBandAX, qoobBandALow, qoobBandAHigh,
                           pointsAX.concat(denseX), pointsAY.concat(denseAY))});
panel(1, 0, {xTicks: xTicksCurves, yMin: 0.7, yMax: 1.0, yTicks: yTicksCovA, yTitle: 'Coverage',
  datasets: () => curveSets(coverageX, coverageASplit, coverageAQoob, spikes(coverageASpikeX, coverageASpikeTop, coverageASpikeLow))});
panel(2, 0, {xTicks: xTicksCurves, yMin: 1.975, yMax: 2.234, yTicks: yTicksWidA, yTitle: 'Width',
  datasets: () => widthSets(widthASplitX, widthASplit, widthAQoobX, widthAQoob, spikeGroups(widthASpikeX, widthASpikeTop, widthASpikeLow))});

// row (b)
panel(0, 1, {xTicks: xTicksScatter, yMin: -3, yMax: 7, yTicks: yTicksScatter, yTitle: 'Y',
  datasets: () => bandSets(splitBandBX, splitBandBLow, splitBandBHigh, qoobBandBX, qoobBandBLow, qoobBandBHigh,
                           pointsBX.concat(denseX), pointsBY.concat(denseBY))});
panel(1, 1, {xTicks: xTicksCurves, yMin: 0.7735, yMax: 1.0, yTicks: yTicksCovB, yTitle: 'Coverage',
  datasets: () => curveSets(coverageX, coverageBSplit, coverageBQoob)});
panel(2, 1, {xTicks: xTicksCurves, yMin: 1.303, yMax: 2.5, yTicks: yTicksWidB, yTitle: 'Width',
  datasets: () => widthSets(widthBSplitX, widthBSplit, widthBQoobX, widthBQoob)});

// row (c)
panel(0, 2, {xTicks: xTicksScatter, yMin: -3, yMax: 7, yTicks: yTicksScatter, yTitle: 'Y',
  datasets: () => bandSets(splitBandCX, splitBandCLow, splitBandCHigh, qoobBandCX, qoobBandCLow, qoobBandCHigh,
                           pointsCX.concat(denseX), pointsCY.concat(denseCY))});
panel(1, 2, {xTicks: xTicksCurves, yMin: 0.7, yMax: 1.0, yTicks: yTicksCovC, yTitle: 'Coverage',
  datasets: () => curveSets(coverageX, coverageCSplit, coverageCQoob)});
panel(2, 2, {xTicks: xTicksCurves, yMin: 1.0, yMax: 2.5, yTicks: yTicksWidC, yTitle: 'Width',
  datasets: () => widthSets(widthCSplitX, widthCSplit, widthCQoobX, widthCQoob)});

// sub-captions
const CAPTION_TOPS = [422, 742, 1062];
captionTags.forEach((tag, i) => {
  const d = document.createElement('div');
  d.className = 'caption';
  d.style.top = CAPTION_TOPS[i] + 'px';
  d.innerHTML = `${tag} <i>n</i><span class="eq">=</span>${captionN[i]}. (QOOB) MW = ${qoobMW[i].toFixed(2)}, MC = ${qoobMC[i].toFixed(2)}. (Split-CQR) MW = ${splitMW[i].toFixed(2)}, MC = ${splitMC[i].toFixed(2)}.`;
  page.appendChild(d);
});
</script>
</body>
</html>
